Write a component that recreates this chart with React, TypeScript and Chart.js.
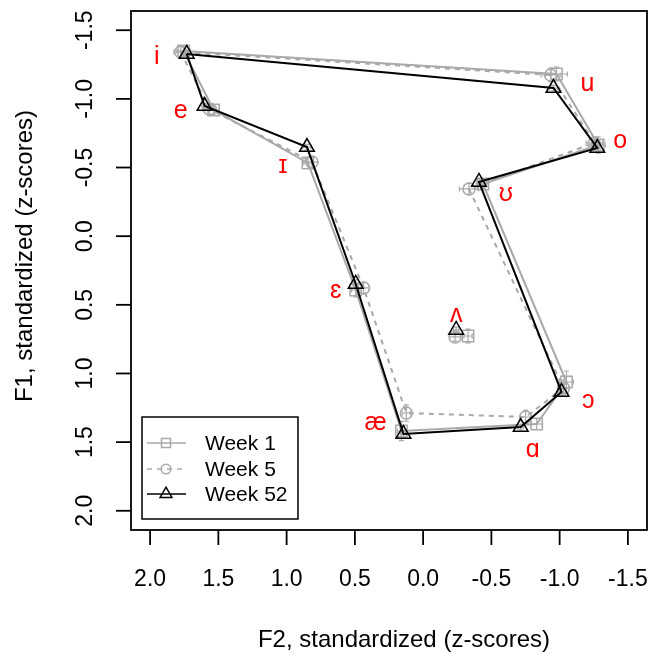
import React, { useEffect, useRef } from "react";
import { Chart, registerables } from "chart.js";

Chart.register(...registerables);

// Vowels: first ten form the closed vowel polygon (in drawing order), last one is isolated
const vowels = ["i", "e", "ɪ", "ɛ", "æ", "ɑ", "ɔ", "ʊ", "o", "u", "ʌ"];
const polygonOrder = [0, 1, 2, 3, 4, 5, 6, 7, 8, 9, 0];
const isolatedIndex = 10;

const seriesNames = ["Week 1", "Week 5", "Week 52"];

// F2 (x) and F1 (y), standardized z-scores
const week1F2 = [1.754, 1.535, 0.844, 0.494, 0.159, -0.832, -1.05, -0.438, -1.283, -0.977, -0.329];
const week1F1 = [-1.349, -0.919, -0.533, 0.392, 1.419, 1.368, 1.062, -0.38, -0.664, -1.181, 0.727];
const week5F2 = [1.776, 1.565, 0.814, 0.436, 0.123, -0.751, -1.028, -0.336, -1.254, -0.934, -0.234];
const week5F1 = [-1.341, -0.926, -0.54, 0.377, 1.288, 1.317, 1.106, -0.344, -0.679, -1.174, 0.734];
const week52F2 = [1.732, 1.601, 0.851, 0.494, 0.144, -0.715, -1.014, -0.409, -1.276, -0.955, -0.242];
const week52F1 = [-1.327, -0.948, -0.649, 0.348, 1.441, 1.39, 1.135, -0.395, -0.642, -1.079, 0.683];

// Standard errors
const week1ErrF2 = [0.05, 0.04, 0.03, 0.03, 0.03, 0.04, 0.05, 0.04, 0.05, 0.08, 0.03];
const week1ErrF1 = [0.03, 0.03, 0.04, 0.05, 0.07, 0.04, 0.08, 0.03, 0.06, 0.05, 0.05];
const week5ErrF2 = [0.05, 0.05, 0.04, 0.04, 0.03, 0.04, 0.04, 0.07, 0.06, 0.07, 0.04];
const week5ErrF1 = [0.04, 0.04, 0.04, 0.04, 0.06, 0.05, 0.06, 0.04, 0.04, 0.05, 0.03];
const week52ErrF2 = [0.02, 0.02, 0.03, 0.02, 0.02, 0.02, 0.03, 0.02, 0.02, 0.03, 0.02];
const week52ErrF1 = [0.02, 0.02, 0.02, 0.03, 0.03, 0.02, 0.03, 0.02, 0.02, 0.02, 0.02];

// Vowel label positions (data coordinates)
const labelF2 = [1.951, 1.776, 1.026, 0.64, 0.348, -0.802, -1.21, -0.606, -1.443, -1.203, -0.242];
const labelF1 = [-1.305, -0.912, -0.511, 0.399, 1.361, 1.557, 1.2, -0.307, -0.693, -1.108, 0.574];

// Axes
const xTicks = [2.0, 1.5, 1.0, 0.5, 0.0, -0.5, -1.0, -1.5];
const yTicks = [-1.5, -1.0, -0.5, 0.0, 0.5, 1.0, 1.5, 2.0];
const xLimits = [-1.64, 2.14];
const yLimits = [-1.64, 2.14];
const xTitle = "F2, standardized (z-scores)";
const yTitle = "F1, standardized (z-scores)";

const FONT = '"Liberation Sans", Arial, Helvetica, sans-serif';
const GRAY = "#a9a9a9";
const BLACK = "#000000";
const RED = "#ff0000";

const seriesStyles = [
  { color: GRAY, point: "rect", radius: 8, dash: [] as number[] },
  { color: GRAY, point: "circle", radius: 6, dash: [5, 5] },
  { color: BLACK, point: "triangle", radius: 8.5, dash: [] as number[] },
];

const seriesF2 = [week1F2, week5F2, week52F2];
const seriesF1 = [week1F1, week5F1, week52F1];
const seriesErrF2 = [week1ErrF2, week5ErrF2, week52ErrF2];
const seriesErrF1 = [week1ErrF1, week5ErrF1, week52ErrF1];

function drawMarker(ctx: CanvasRenderingContext2D, style: string, x: number, y: number, r: number) {
  ctx.beginPath();
  if (style === "rect") {
    const s = r * Math.SQRT1_2;
    ctx.rect(x - s, y - s, 2 * s, 2 * s);
  } else if (style === "circle") {
    ctx.arc(x, y, r, 0, Math.PI * 2);
  } else {
    ctx.moveTo(x, y - r);
    ctx.lineTo(x + (r * Math.sqrt(3)) / 2, y + r / 2);
    ctx.lineTo(x - (r * Math.sqrt(3)) / 2, y + r / 2);
    ctx.closePath();
  }
  ctx.stroke();
}

const overlayPlugin = {
  id: "overlay",
  beforeDatasetsDraw(chart: any) {
    const ctx: CanvasRenderingContext2D = chart.ctx;
    const xs = chart.scales.x;
    const ys = chart.scales.y;
    ctx.save();
    ctx.strokeStyle = GRAY;
    ctx.lineWidth = 1.2;
    const cap = 2.5;
    for (let s = 0; s < 3; s++) {
      for (let i = 0; i < vowels.length; i++) {
        const px = xs.getPixelForValue(seriesF2[s][i]);
        const py = ys.getPixelForValue(seriesF1[s][i]);
        const x1 = xs.getPixelForValue(seriesF2[s][i] - seriesErrF2[s][i]);
        const x2 = xs.getPixelForValue(seriesF2[s][i] + seriesErrF2[s][i]);
        const y1 = ys.getPixelForValue(seriesF1[s][i] - seriesErrF1[s][i]);
        const y2 = ys.getPixelForValue(seriesF1[s][i] + seriesErrF1[s][i]);
        ctx.beginPath();
        ctx.moveTo(x1, py);
        ctx.lineTo(x2, py);
        ctx.moveTo(x1, py - cap);
        ctx.lineTo(x1, py + cap);
        ctx.moveTo(x2, py - cap);
        ctx.lineTo(x2, py + cap);
        ctx.moveTo(px, y1);
        ctx.lineTo(px, y2);
        ctx.moveTo(px - cap, y1);
        ctx.lineTo(px + cap, y1);
        ctx.moveTo(px - cap, y2);
        ctx.lineTo(px + cap, y2);
        ctx.stroke();
      }
    }
    ctx.restore();
  },
  afterDatasetsDraw(chart: any) {
    const ctx: CanvasRenderingContext2D = chart.ctx;
    const xs = chart.scales.x;
    const ys = chart.scales.y;
    const a = chart.chartArea;
    ctx.save();

    // Box
    ctx.strokeStyle = BLACK;
    ctx.lineWidth = 1.8;
    ctx.strokeRect(a.left, a.top, a.right - a.left, a.bottom - a.top);

    // X ticks
    ctx.fillStyle = BLACK;
    ctx.font = `23px ${FONT}`;
    ctx.textAlign = "center";
    ctx.textBaseline = "middle";
    ctx.lineWidth = 1.8;
    for (const v of xTicks) {
      const px = xs.getPixelForValue(v);
      ctx.beginPath();
      ctx.moveTo(px, a.bottom);
      ctx.lineTo(px, a.bottom + 15);
      ctx.stroke();
      ctx.fillText(v.toFixed(1), px, 580);
    }
    // Y ticks
    for (const v of yTicks) {
      const py = ys.getPixelForValue(v);
      ctx.beginPath();
      ctx.moveTo(a.left - 15, py);
      ctx.lineTo(a.left, py);
      ctx.stroke();
      ctx.save();
      ctx.translate(86, py);
      ctx.rotate(-Math.PI / 2);
      ctx.fillText(v.toFixed(1), 0, 0);
      ctx.restore();
    }

    // Axis titles
    ctx.font = `24px ${FONT}`;
    ctx.fillText(xTitle, 404, 640);
    ctx.save();
    ctx.translate(25, 256);
    ctx.rotate(-Math.PI / 2);
    ctx.fillText(yTitle, 0, 0);
    ctx.restore();

    // Vowel labels
    ctx.fillStyle = RED;
    ctx.font = `25px ${FONT}`;
    for (let i = 0; i < vowels.length; i++) {
      ctx.fillText(vowels[i], xs.getPixelForValue(labelF2[i]), ys.getPixelForValue(labelF1[i]));
    }

    // Legend
    const lx = 142, ly = 417, lw = 156, lh = 102;
    ctx.fillStyle = "#ffffff";
    ctx.fillRect(lx, ly, lw, lh);
    ctx.strokeStyle = BLACK;
    ctx.lineWidth = 1.5;
    ctx.strokeRect(lx, ly, lw, lh);
    const rows = [443, 469, 494];
    ctx.font = `21px ${FONT}`;
    ctx.textAlign = "left";
    for (let s = 0; s < 3; s++) {
      const st = seriesStyles[s];
      ctx.strokeStyle = st.color;
      ctx.lineWidth = 1.5;
      ctx.setLineDash(st.dash);
      ctx.beginPath();
      ctx.moveTo(147, rows[s]);
      ctx.lineTo(186, rows[s]);
      ctx.stroke();
      ctx.setLineDash([]);
      drawMarker(ctx, st.point, 166, rows[s], st.radius * 0.8);
      ctx.fillStyle = BLACK;
      ctx.fillText(seriesNames[s], 205, rows[s] + 1);
    }
    ctx.restore();
  },
};

export default function App() {
  const ref = useRef<HTMLCanvasElement>(null);
  useEffect(() => {
    const datasets: any[] = [];
    for (let s = 0; s < 3; s++) {
      const st = seriesStyles[s];
      const poly = polygonOrder.map((i) => ({ x: seriesF2[s][i], y: seriesF1[s][i] }));
      datasets.push({
        label: seriesNames[s],
        data: poly,
        showLine: true,
        borderColor: st.color,
        borderWidth: 2,
        borderDash: st.dash,
        pointStyle: st.point,
        pointRadius: polygonOrder.map((_, k) => (k === polygonOrder.length - 1 ? 0 : st.radius)),
        pointBorderColor: st.color,
        pointBorderWidth: 1.5,
        pointBackgroundColor: "rgba(0,0,0,0)",
        fill: false,
        tension: 0,
        order: 3 - s,
      });
      datasets.push({
        label: seriesNames[s] + " " + vowels[isolatedIndex],
        data: [{ x: seriesF2[s][isolatedIndex], y: seriesF1[s][isolatedIndex] }],
        showLine: false,
        pointStyle: st.point,
        pointRadius: st.radius,
        pointBorderColor: st.color,
        pointBorderWidth: 1.5,
        pointBackgroundColor: "rgba(0,0,0,0)",
        order: 3 - s,
      });
    }
    const chart = new Chart(ref.current!, {
      type: "scatter",
      data: { datasets },
      options: {
        responsive: false,
        devicePixelRatio: 1,
        animation: false,
        events: [],
        layout: { padding: { left: 131, top: 11, right: 7, bottom: 129 } },
        plugins: { legend: { display: false }, tooltip: { enabled: false } },
        scales: {
          x: { type: "linear", display: false, min: xLimits[0], max: xLimits[1], reverse: true },
          y: { type: "linear", display: false, min: yLimits[0], max: yLimits[1], reverse: true },
        },
      },
      plugins: [overlayPlugin],
    } as any);
    return () => chart.destroy();
  }, []);
  return (
    <div style={{ position: "fixed", left: 0, top: 0, width: 657, height: 659, background: "#fff" }}>
      <canvas ref={ref} width={657} height={659} style={{ width: 657, height: 659, display: "block" }} />
    </div>
  );
}
